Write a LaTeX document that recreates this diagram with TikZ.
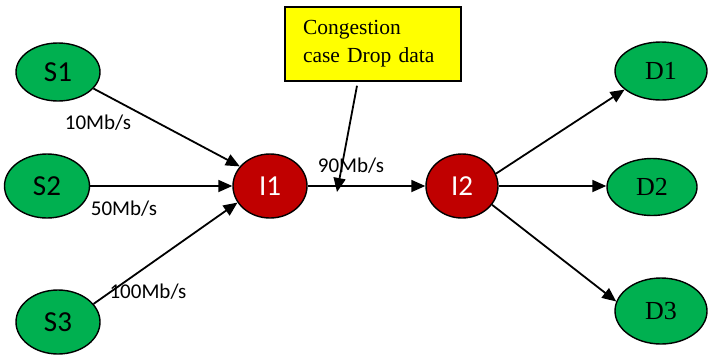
\documentclass[tikz,border=0pt]{standalone}
\usepackage{fontspec}
\setmainfont{Liberation Serif}
\newfontfamily\carl{Carlito}
\usetikzlibrary{arrows.meta,shapes.geometric,calc}
\definecolor{ngreen}{RGB}{0,176,80}
\definecolor{nred}{RGB}{192,0,0}
\definecolor{nyellow}{RGB}{255,255,0}
\begin{document}
\begin{tikzpicture}[x=1pt,y=-1pt,
  src/.style={ellipse,draw=black,line width=1.4pt,fill=ngreen,inner sep=0pt,font=\carl\fontsize{29}{32}\selectfont},
  dst/.style={ellipse,draw=black,line width=1.4pt,fill=ngreen,inner sep=0pt,font=\fontsize{26}{30}\selectfont},
  mid/.style={ellipse,draw=black,line width=1.4pt,fill=nred,inner sep=0pt,text=white,font=\carl\fontsize{29}{32}\selectfont},
  conn/.style={line width=1.8pt,-{Triangle[length=14pt,width=12pt]}},
  rate/.style={font=\carl\fontsize{21}{24}\selectfont,inner sep=0pt}]
\useasboundingbox (0,0) rectangle (708,354);
\node[src,minimum width=84pt,minimum height=58pt] (S1) at (58,72) {S1};
\node[src,minimum width=85pt,minimum height=64pt] (S2) at (47,186) {S2};
\node[src,minimum width=84pt,minimum height=64pt] (S3) at (58,322) {S3};
\node[mid,minimum width=74pt,minimum height=64pt] (I1) at (270,186) {I1};
\node[mid,minimum width=72pt,minimum height=64pt] (I2) at (462,186) {I2};
\node[dst,minimum width=92pt,minimum height=58pt] (D1) at (661,71) {D1};
\node[dst,minimum width=90pt,minimum height=57pt] (D2) at (652,187) {D2};
\node[dst,minimum width=92pt,minimum height=66pt] (D3) at (661,311) {D3};
\node[draw=black,line width=1.4pt,fill=nyellow,minimum width=176pt,minimum height=74pt,inner sep=0pt,
  text width=140pt,align=left,font=\fontsize{21.5}{28}\selectfont] (box) at (373,44) {Congestion\\case Drop data};
\coordinate (cg) at (337,192);
\draw[conn] (S1.-25) -- (I1.147);
\draw[conn] (S2.east) -- (I1.west);
\draw[conn] (S3.27) -- (I1.207);
\draw[conn] (I1.east) -- (I2.west);
\draw[conn] (I2.20) -- (D1.207);
\draw[conn] (I2.east) -- (I2.east -| D2.west);
\draw[conn] (I2.-32) -- (D3.168);
\draw[conn] ($(box.south)+(-16,4)$) -- (cg);
\node[rate] (r10) at (98,123) {10Mb/s};
\node[rate] (r50) at (124,209) {50Mb/s};
\node[rate] (r100) at (148,292) {100Mb/s};
\node[rate] (r90) at (351,166) {90Mb/s};
\end{tikzpicture}
\end{document}
